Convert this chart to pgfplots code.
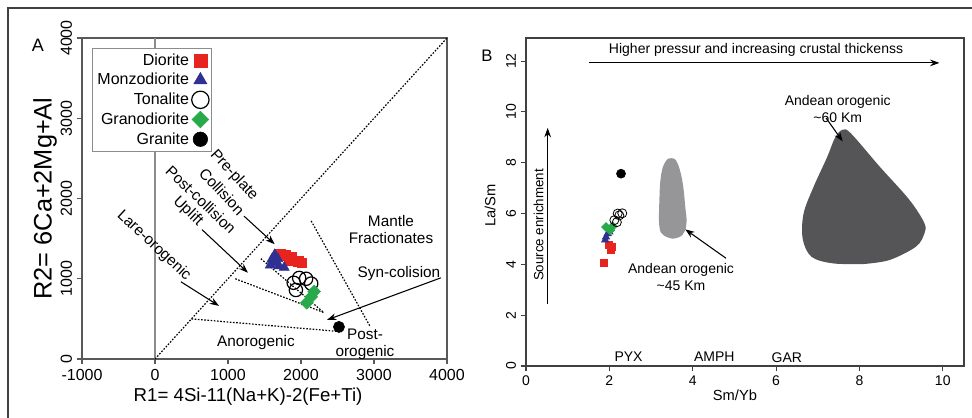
\documentclass[border=0pt]{standalone}
\usepackage{pgfplots}
\pgfplotsset{compat=1.18}
\usepackage{fontspec}
\setmainfont{Liberation Sans}
\usetikzlibrary{arrows.meta}
\definecolor{dred}{RGB}{232,36,30}
\definecolor{dblue}{RGB}{46,49,146}
\definecolor{dgreen}{RGB}{40,170,75}
\definecolor{lblob}{RGB}{150,150,152}
\definecolor{dblob}{RGB}{85,85,87}
\pgfplotsset{
  dotline/.style={black, line width=0.9pt, dash pattern=on 1.2pt off 1.2pt, forget plot},
  arr/.style={black, line width=0.8pt, -{Stealth[length=7pt,width=5pt]}, forget plot},
}
\begin{document}
\begin{tikzpicture}
\useasboundingbox (0,0) rectangle (729pt,-313.5pt);
\draw[line width=1.5pt, black!75] (6pt,-330pt) -- (6pt,-6pt) -- (740pt,-6pt);
\node[font=\fontsize{13.5}{15}\selectfont] at (28.5pt,-33.75pt) {A};
\node[font=\fontsize{12.5}{14}\selectfont] at (365.25pt,-42pt) {B};
% ---------------- Panel A
\begin{axis}[
  at={(61.5pt,-269.25pt)}, anchor=south west,
  scale only axis, width=273.75pt, height=240.75pt,
  xmin=-1000, xmax=4000, ymin=0, ymax=4000,
  xtick={-1000,0,1000,2000,3000,4000}, ytick={0,1000,2000,3000,4000},
  tick align=outside, xtick pos=bottom, ytick pos=left,
  major tick length=4pt,
  axis line style={black!65, line width=0.8pt},
  tick style={black!65, line width=0.8pt},
  /pgf/number format/assume math mode=true,
  /pgf/number format/1000 sep={},
  ticklabel style={font=\fontsize{12}{14}\selectfont},
  yticklabel style={rotate=90, anchor=south},
  xlabel={R1= 4Si-11(Na+K)-2(Fe+Ti)},
  ylabel={R2= 6Ca+2Mg+Al},
  xlabel style={font=\fontsize{14}{16}\selectfont, at={(axis description cs:0.455,-0.118)}, anchor=center},
  ylabel style={font=\fontsize{19}{21}\selectfont, at={(axis description cs:-0.101,0.5)}, anchor=center},
  clip=false,
  legend cell align=right, legend plot pos=right,
  legend image post style={scale=1.3},
  legend style={at={(0.027,0.969)}, anchor=north west, draw=black!45,
    font=\fontsize{12}{14}\selectfont, row sep=0.6pt, inner sep=2pt},
]
\addplot[black!45, line width=0.8pt, forget plot] coordinates {(0,0) (0,4000)};
\addplot[dotline] coordinates {(0,0) (4000,4000)};
\addplot[dotline] coordinates {(2140,1720) (2950,400)};
\addplot[dotline] coordinates {(1100,1000) (2310,580)};
\addplot[dotline] coordinates {(1450,1250) (2310,580)};
\addplot[dotline] coordinates {(500,500) (2560,340)};
\addplot[arr] coordinates {(1220,1780) (1640,1430)};
\addplot[arr] coordinates {(644,1612) (1274,1075)};
\addplot[arr] coordinates {(356,962) (877,662)};
\addplot[arr] coordinates {(3918,1012) (2356,487)};
% data
\addplot[only marks, mark=square*, mark size=3.7pt, color=dred] coordinates {
(1720,1300) (1790,1290) (1870,1270) (1840,1230) (1960,1220) (2010,1200)};
\addlegendentry{Diorite}
\addplot[only marks, mark=triangle*, mark size=4.4pt, color=dblue] coordinates {
(1600,1240) (1640,1300) (1650,1200) (1700,1160) (1770,1140) (1580,1170) (1680,1250)};
\addlegendentry{Monzodiorite}
\addplot[only marks, mark=o, mark size=5pt, color=black, line width=0.9pt] coordinates {
(1900,950) (1975,1010) (2070,1000) (2140,940) (1930,860)};
\addlegendentry{Tonalite}
\addplot[only marks, mark=diamond*, mark size=4.8pt, color=dgreen, mark options={xscale=1.33}] coordinates {
(2080,700) (2180,840) (2140,775)};
\addlegendentry{Granodiorite}
\addplot[only marks, mark=*, mark size=4.2pt, color=black] coordinates {(2520,400)};
\addlegendentry{Granite}
% labels
\node[font=\fontsize{11.5}{13}\selectfont, rotate=-47, inner sep=0pt] at (axis cs:1082,2287) {Pre-plate};
\node[font=\fontsize{11.5}{13}\selectfont, rotate=-47, inner sep=0pt] at (axis cs:918,2087) {Collision};
\node[font=\fontsize{11.5}{13}\selectfont, rotate=-44, inner sep=0pt] at (axis cs:630,1987) {Post-collision};
\node[font=\fontsize{11.5}{13}\selectfont, rotate=-44, inner sep=0pt] at (axis cs:452,1837) {Uplift};
\node[font=\fontsize{11.5}{13}\selectfont, rotate=-43, inner sep=0pt] at (axis cs:-14,1412) {Lare-orogenic};
\node[font=\fontsize{11.5}{13}\selectfont, align=center] at (axis cs:3233,1612) {Mantle\\Fractionates};
\node[font=\fontsize{11.5}{13}\selectfont] at (axis cs:3342,1062) {Syn-colision};
\node[font=\fontsize{11.5}{13}\selectfont] at (axis cs:1384,200) {Anorogenic};
\node[font=\fontsize{11.5}{13}\selectfont, align=center] at (axis cs:2877,187) {Post-\\orogenic};
\end{axis}
% ---------------- Panel B
\begin{axis}[
  at={(394.5pt,-274.5pt)}, anchor=south west,
  scale only axis, width=328.5pt, height=246pt,
  xmin=0, xmax=10.51, ymin=0, ymax=12.91,
  xtick={0,2,...,10}, ytick={0,2,...,12},
  tick align=outside, xtick pos=bottom, ytick pos=left,
  major tick length=4pt,
  axis line style={black!75, line width=0.8pt},
  tick style={black!75, line width=0.8pt},
  /pgf/number format/assume math mode=true,
  ticklabel style={font=\fontsize{10.5}{12}\selectfont},
  yticklabel style={rotate=90, anchor=south},
  xlabel={Sm/Yb}, ylabel={La/Sm},
  xlabel style={font=\fontsize{11}{13}\selectfont, at={(axis description cs:0.477,-0.088)}, anchor=center},
  ylabel style={font=\fontsize{11}{13}\selectfont, at={(axis description cs:-0.082,0.49)}, anchor=center},
  clip=false,
]
\addplot[fill=lblob, draw=none, smooth, tension=0.7, forget plot] coordinates {
(3.52,5.01) (3.3,5.15) (3.2,5.5) (3.2,6.5) (3.24,7.5) (3.35,8.05) (3.5,8.18) (3.63,8.0) (3.75,7.3) (3.82,6.3) (3.85,5.6) (3.75,5.15) (3.52,5.01)};
\addplot[fill=dblob, draw=none, smooth, tension=0.55, forget plot] coordinates {
(8.08,4.01) (7.36,4.04) (6.85,4.3) (6.64,5.0) (6.66,6.0) (6.9,7.05) (7.22,8.2) (7.42,9.0) (7.6,9.3) (7.8,9.15) (8.48,7.86) (9.2,6.54) (9.56,5.62) (9.56,5.22) (9.36,4.7) (8.72,4.17) (8.08,4.01)};
\addplot[arr] coordinates {(1.52,11.93) (9.92,11.93)};
\addplot[arr] coordinates {(0.52,2.46) (0.52,9.37)};
\addplot[arr] coordinates {(7.2,9.76) (7.6,8.84)};
\addplot[arr] coordinates {(4.8,4.24) (3.82,5.38)};
\addplot[only marks, mark=square*, mark size=2.6pt, color=dred] coordinates {
(1.98,4.76) (2.04,4.59) (2.06,4.69) (1.86,4.07)};
\addplot[only marks, mark=triangle*, mark size=3.2pt, color=dblue] coordinates {
(1.92,5.08) (1.96,5.21) (2.0,5.28) (1.9,4.96)};
\addplot[only marks, mark=diamond*, mark size=3.4pt, color=dgreen, mark options={xscale=1.33}] coordinates {
(1.92,5.47) (2.08,5.5) (2.02,5.34)};
\addplot[only marks, mark=o, mark size=3.4pt, color=black, line width=0.6pt] coordinates {
(2.12,5.74) (2.24,5.93) (2.31,6.01) (2.18,5.66) (2.2,6.0)};
\addplot[only marks, mark=*, mark size=3.4pt, color=black] coordinates {(2.28,7.57)};
\node[font=\fontsize{10.5}{12}\selectfont] at (axis cs:5.52,12.43) {Higher pressur and increasing crustal thickenss};
\node[font=\fontsize{10}{12}\selectfont, rotate=90] at (axis cs:0.30,5.55) {Source enrichment};
\node[font=\fontsize{10.5}{12.5}\selectfont, align=center] at (axis cs:7.48,10.12) {Andean orogenic\\\textasciitilde60 Km};
\node[font=\fontsize{10.5}{12.5}\selectfont, align=center] at (axis cs:3.72,3.51) {Andean orogenic\\\textasciitilde45 Km};
\node[font=\fontsize{10.5}{12}\selectfont] at (axis cs:2.46,0.36) {PYX};
\node[font=\fontsize{10.5}{12}\selectfont] at (axis cs:4.52,0.36) {AMPH};
\node[font=\fontsize{10.5}{12}\selectfont] at (axis cs:6.26,0.33) {GAR};
\end{axis}
\end{tikzpicture}
\end{document}
